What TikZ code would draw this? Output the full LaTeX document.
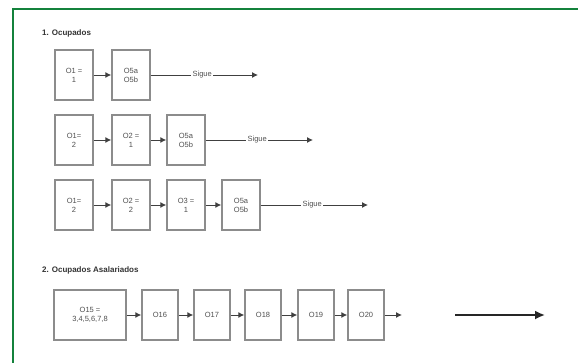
\documentclass[tikz,border=0pt]{standalone}
\usepackage{fontspec}
\setmainfont{Liberation Sans}
\usetikzlibrary{arrows.meta,decorations.markings}
\definecolor{framegreen}{RGB}{20,130,60}
\definecolor{boxgray}{RGB}{140,140,140}
\definecolor{txtgray}{RGB}{80,80,80}
\begin{document}
\begin{tikzpicture}[x=1pt,y=-1pt,
  bx/.style={draw=boxgray,line width=1.4pt,minimum width=38,minimum height=50,align=center,
    font=\fontsize{7.5}{9}\selectfont,text=txtgray,inner sep=1pt},
  wbx/.style={bx,minimum width=72},
  nbx/.style={bx,minimum width=36},
  conn/.style={draw=black!75,line width=1pt,-{Latex[length=6pt,width=6pt]}},
  sig/.style={fill=white,inner sep=1.5pt,font=\fontsize{7.5}{9}\selectfont,text=txtgray},
  ttl/.style={anchor=west,font=\bfseries\fontsize{8}{10}\selectfont,text=black!80,inner sep=0pt}]
\useasboundingbox (0,0) rectangle (578,362);
\fill[white] (0,0) rectangle (578,362);
\begin{scope}
\clip (0,0) rectangle (578,362);
\draw[framegreen,line width=2.2pt] (13,9) rectangle (620,420);
\end{scope}
% titles
\node[ttl] (t1) at (42,33) {1. Ocupados};
\node[ttl] (t2) at (42,270) {2. Ocupados Asalariados};
% row 1
\node[bx] (a1) at (74,75) {O1 =\\1};
\node[bx] (a2) at (131,75) {O5a\\O5b};
\coordinate (ae) at (258,75);
\draw[conn] (a1) -- (a2);
\draw[conn] (a2) -- node[sig,pos=0.48] {Sigue} (ae);
% row 2
\node[bx] (b1) at (74,140) {O1=\\2};
\node[bx] (b2) at (131,140) {O2 =\\1};
\node[bx] (b3) at (186,140) {O5a\\O5b};
\coordinate (be) at (313,140);
\draw[conn] (b1) -- (b2);
\draw[conn] (b2) -- (b3);
\draw[conn] (b3) -- node[sig,pos=0.48] {Sigue} (be);
% row 3
\node[bx] (c1) at (74,205) {O1=\\2};
\node[bx] (c2) at (131,205) {O2 =\\2};
\node[bx] (c3) at (186,205) {O3 =\\1};
\node[bx] (c4) at (241,205) {O5a\\O5b};
\coordinate (ce) at (368,205);
\draw[conn] (c1) -- (c2);
\draw[conn] (c2) -- (c3);
\draw[conn] (c3) -- (c4);
\draw[conn] (c4) -- node[sig,pos=0.48] {Sigue} (ce);
% row 4
\node[wbx] (d1) at (90,315) {O15 =\\3,4,5,6,7,8};
\node[nbx] (d2) at (160,315) {O16};
\node[nbx] (d3) at (212,315) {O17};
\node[nbx] (d4) at (263,315) {O18};
\node[nbx] (d5) at (316,315) {O19};
\node[nbx] (d6) at (366,315) {O20};
\coordinate (dd) at (402,315);
\draw[conn] (d1) -- (d2);
\draw[conn] (d2) -- (d3);
\draw[conn] (d3) -- (d4);
\draw[conn] (d4) -- (d5);
\draw[conn] (d5) -- (d6);
\draw[conn] (d6) -- (dd);
\coordinate (fs) at (455,315);
\coordinate (fe) at (545,315);
\draw[draw=black!85,line width=1.8pt,-{Latex[length=10pt,width=9pt]}] (fs) -- (fe);
\end{tikzpicture}
\end{document}
